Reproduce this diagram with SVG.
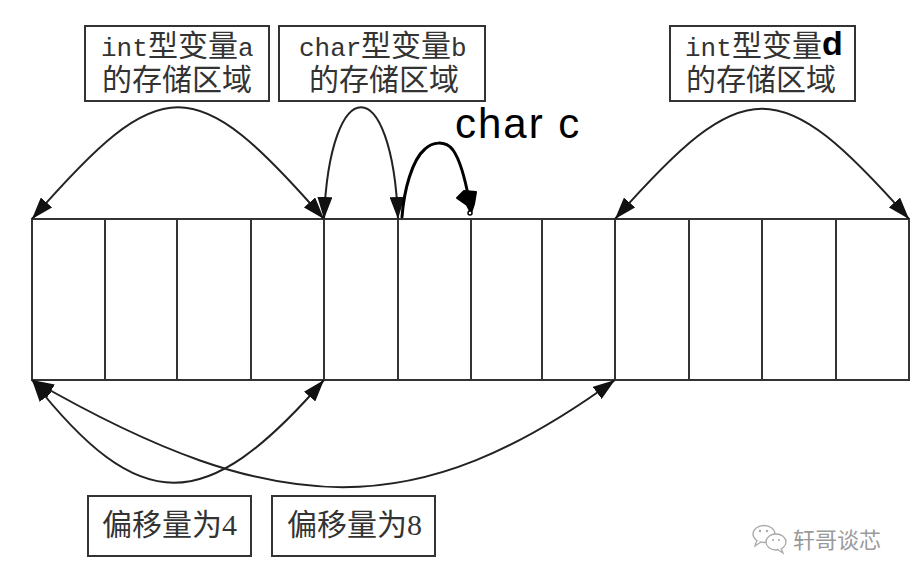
<svg xmlns="http://www.w3.org/2000/svg" width="912" height="582" viewBox="0 0 912 582">
<style>
.box{fill:#fff;stroke:#333;stroke-width:2}
.cell{fill:#fff;stroke:#333;stroke-width:2}
.lbl{font-family:"Noto Sans CJK SC",sans-serif;font-size:30px;fill:#333}
.lat{font-family:"Liberation Mono","Noto Sans CJK SC",monospace;font-size:26px;fill:#333}
.dig{font-family:"Liberation Serif","Noto Sans CJK SC",serif;font-size:30px;fill:#333}
.conn{fill:none;stroke:#222;stroke-width:2}
.hand{fill:none;stroke:#000;stroke-width:3;stroke-linecap:round;stroke-linejoin:round}
.wm{font-family:"Noto Sans CJK SC",sans-serif;font-size:22px;fill:#9a9a9a}
</style>
<defs>
<marker id="ah" markerUnits="userSpaceOnUse" markerWidth="22" markerHeight="15" refX="22" refY="7.5" orient="auto-start-reverse">
<path d="M0,0 L22,7.5 L0,15 Z" fill="#111"/>
</marker>
</defs>
<rect width="912" height="582" fill="#fff"/>

<g id="memory">
<rect class="cell" x="32" y="219" width="877" height="161"/>
<path class="cell" d="M105,219V380M177,219V380M251,219V380M324,219V380M398,219V380M471,219V380M542,219V380M615,219V380M689,219V380M762,219V380M836,219V380"/>
</g>

<g id="label-a">
<rect class="box" x="85" y="26" width="184" height="75"/>
<text class="lat" x="101" y="56">int</text>
<text class="lbl" x="148" y="56">型变量</text>
<text class="lat" x="238" y="56">a</text>
<text class="lbl" x="102" y="90">的存储区域</text>
</g>

<g id="label-b">
<rect class="box" x="279" y="26" width="206" height="75"/>
<text class="lat" x="299" y="56">char</text>
<text class="lbl" x="361" y="56">型变量</text>
<text class="lat" x="451" y="56">b</text>
<text class="lbl" x="309" y="90">的存储区域</text>
</g>

<g id="label-d">
<rect class="box" x="670" y="26" width="185" height="75"/>
<text class="lat" x="685" y="56">int</text>
<text class="lbl" x="732" y="56">型变量</text>
<text x="822" y="55" font-family="Liberation Sans,sans-serif" font-weight="bold" font-size="34" fill="#000">d</text>
<text class="lbl" x="686" y="90">的存储区域</text>
</g>

<g id="label-c">
<text x="455" y="138" font-family="Liberation Sans,sans-serif" font-size="42" fill="#000" letter-spacing="2">char c</text>
</g>

<g id="offset-4">
<rect class="box" x="88" y="496" width="163" height="60"/>
<text class="lbl" x="102" y="535">偏移量为</text>
<text class="dig" x="222" y="535">4</text>
</g>

<g id="offset-8">
<rect class="box" x="272" y="496" width="163" height="60"/>
<text class="lbl" x="287" y="535">偏移量为</text>
<text class="dig" x="407" y="535">8</text>
</g>

<g id="connectors">
<path class="conn" d="M32,219 C162,70 194,70 324,219" marker-start="url(#ah)" marker-end="url(#ah)"/>
<path class="conn" d="M324,219 C330,70 392,70 398,219" marker-start="url(#ah)" marker-end="url(#ah)"/>
<path class="conn" d="M615,219 C745,72 779,72 909,219" marker-start="url(#ah)" marker-end="url(#ah)"/>
<path class="conn" d="M32,380 C140,517 205,517 324,380" marker-start="url(#ah)" marker-end="url(#ah)"/>
<path class="conn" d="M32,380 C280,523 418,523 615,380" marker-start="url(#ah)" marker-end="url(#ah)"/>
<path class="hand" d="M402,217 C404,190 412,160 425,149 C432,142 445,140 453,150 C460,160 465,178 469,200"/>
<path d="M457,198 L464,191 L476,192 L474,204 L471,213 L467,205 Z" fill="#000" stroke="#000" stroke-width="2" stroke-linejoin="round"/>
<circle cx="470" cy="213" r="2" fill="#fff" stroke="#000" stroke-width="1.5"/>
</g>

<g id="watermark">
<ellipse cx="764" cy="534" rx="11" ry="8.5" fill="#fff" stroke="#aaa" stroke-width="1.3"/>
<path d="M757,540 L755,546 L761,542" fill="#fff" stroke="#aaa" stroke-width="1.3"/>
<ellipse cx="776" cy="542" rx="10" ry="8" fill="#fff" stroke="#aaa" stroke-width="1.3"/>
<path d="M781,548 L783,553 L777,549" fill="#fff" stroke="#aaa" stroke-width="1.3"/>
<circle cx="760" cy="531" r="1.2" fill="#aaa"/>
<circle cx="767" cy="531" r="1.2" fill="#aaa"/>
<circle cx="773" cy="540" r="1.1" fill="#aaa"/>
<circle cx="779" cy="540" r="1.1" fill="#aaa"/>
<text class="wm" x="793" y="548">轩哥谈芯</text>
</g>
</svg>
